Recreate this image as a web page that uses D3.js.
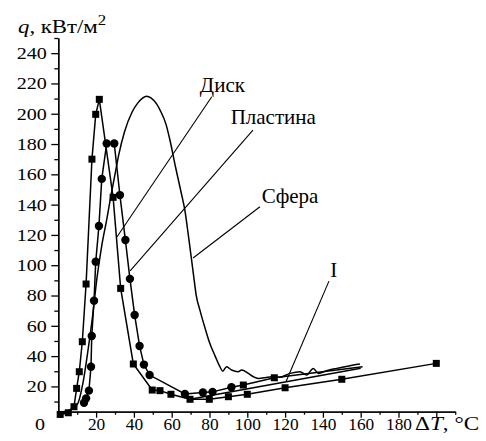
<!DOCTYPE html>
<html>
<head>
<meta charset="utf-8">
<script src="https://cdnjs.cloudflare.com/ajax/libs/d3/7.8.5/d3.min.js"></script>
<style>
  body { margin: 0; background: #fff; }
</style>
</head>
<body>
<svg id="chart" width="486" height="441"></svg>
<script>
// values (q in kW/m2 vs dT in degC)
const diskX = [1, 5.3, 8.3, 9.7, 11.1, 12.7, 14.7, 17.8, 19.8, 21.7, 29, 33, 39.7, 49.7, 53.8, 59.6, 69.7, 79.9, 90, 100, 120, 150, 200];
const diskY = [1.5, 2.6, 6.6, 18.7, 29.7, 49.5, 87.6, 170, 199.6, 209.5, 144.8, 84.7, 34.8, 17.6, 17.2, 14.8, 11.5, 11.5, 13.2, 14.8, 19.1, 24.7, 35.2];

const plateX = [13.6, 14.7, 16.2, 17.3, 17.7, 18.9, 19.8, 21.5, 23, 25.6, 29.6, 32.6, 35.5, 37.9, 40.4, 43, 45.3, 48.3, 67, 76.5, 81.6, 91.6];
const plateY = [9.2, 12.1, 17.2, 33, 53.3, 76.6, 102.3, 125.9, 157, 180.4, 180.4, 146.3, 116.6, 91, 67.1, 46.7, 34.4, 27.5, 15, 16, 16.4, 19.4];

// continuation of the upper tail (square markers on the inner points)
const upperX = [91.6, 97.9, 114.3, 161];
const upperY = [19.4, 20.9, 25.7, 33];

// line I
const lineIX = [69.7, 160];
const lineIY = [11.5, 32];

const sphereX = [1, 5, 10, 13, 15.5, 18, 20.5, 23, 25.6, 28, 30, 32, 35, 39, 42, 46.8, 49, 52, 54, 57, 59, 62, 65, 67, 69, 71.4, 73, 75, 78, 80, 83, 85.5, 87, 89, 91.7, 95.2, 97, 100.5, 103.2, 105.8, 109.4, 112.9, 117, 122.6, 127.9, 131.4, 134.9, 137.6, 142, 147.3, 151.7, 156.1, 159.6];
const sphereY = [3, 4, 8, 22, 42, 65, 92, 113, 130, 147, 160, 173, 188, 201, 207, 211.6, 210.5, 206.5, 202, 193, 183, 165, 148, 136, 118, 95, 80, 70, 57, 49, 40, 33, 30, 33, 30.8, 29.7, 30.8, 28.6, 26.4, 25.3, 25.7, 26.4, 26, 28.6, 29.7, 27.5, 31.9, 28.6, 30.4, 31.9, 33, 34.1, 34.8];

const xTicks = d3.range(0, 211, 10);
const xLabels = [20, 40, 60, 80, 100, 120, 140, 160, 180];
const yTicks = d3.range(10, 251, 10);
const yLabels = [20, 40, 60, 80, 100, 120, 140, 160, 180, 200, 220, 240];

// annotations: [label, text x, text y, leader from x, y, leader to x, y] in data units
const notes = [
  ["Диск", 74.9, 214.5, 81.2, 211.2, 31, 118.6],
  ["Пластина", 91.2, 193, 103, 189.2, 38, 96.3],
  ["Сфера", 107.6, 140.9, 106.7, 138.6, 71.3, 104.8],
  ["I", 143.9, 92.4, 143.2, 89.5, 120.5, 23.2]
];

const serif = '"Liberation Serif", "Times New Roman", serif';
const svg = d3.select("#chart");
const x = d3.scaleLinear().domain([0, 210]).range([58.3, 455.2]);
const y = d3.scaleLinear().domain([0, 250]).range([416.7, 38]);
const yBase = 3.3; // the horizontal axis sits a little above q = 0
const fs = 17;

// the printed figure's axis lettering is wide; stretch text about its anchor
function stretch(sel, sx) {
  sel.each(function () {
    const t = d3.select(this);
    const tx = +t.attr("x") || 0, ty = +t.attr("y") || 0;
    t.attr("x", 0).attr("y", 0).attr("transform", `translate(${tx},${ty}) scale(${sx},1)`);
  });
}

// x axis
const xg = svg.append("g").attr("transform", `translate(0,${y(yBase)})`);
xg.call(d3.axisBottom(x).tickValues(xTicks.filter(v => v % 20 == 10)).tickSize(3).tickFormat("").tickSizeOuter(0));
xg.append("g").call(d3.axisBottom(x).tickValues(xTicks.filter(v => v % 20 == 0 && v > 0))
  .tickSize(6).tickPadding(0).tickSizeOuter(0)
  .tickFormat(v => xLabels.includes(v) ? v : ""));
xg.selectAll("path, line").attr("stroke", "#000").attr("stroke-width", 1.3);
xg.selectAll("text").attr("y", 6.5);

// y axis
const yAx = y.copy().domain([yBase, 250]).range([y(yBase), y(250)]);
const yg = svg.append("g").attr("transform", `translate(${x(0)},0)`);
yg.call(d3.axisLeft(yAx).tickValues(yTicks.filter(v => v % 20 == 10)).tickSize(4).tickFormat("").tickSizeOuter(0));
yg.append("g").call(d3.axisLeft(yAx).tickValues(yLabels).tickSize(7).tickPadding(4.5).tickSizeOuter(0));
yg.selectAll("path, line").attr("stroke", "#000").attr("stroke-width", 1.3);

// axis titles
const zero = svg.append("text").attr("x", 40).attr("y", 430).attr("text-anchor", "middle").attr("font-size", fs).text("0");
const qt = svg.append("text").attr("x", 18).attr("y", 33).attr("font-size", 19);
qt.append("tspan").attr("font-style", "italic").text("q");
qt.append("tspan").text(", кВт/м");
qt.append("tspan").attr("font-size", 14).attr("dy", -8).text("2");
const tt = svg.append("text").attr("x", 415).attr("y", 430).attr("font-size", 19);
tt.append("tspan").text("Δ");
tt.append("tspan").attr("font-style", "italic").text("T");
tt.append("tspan").text(", °C");

// curves
const line = d3.line().x(d => x(d[0])).y(d => y(d[1]));
const pts = (xs, ys) => xs.map((v, i) => [v, ys[i]]);
const drawLine = (data, curve) => svg.append("path").datum(data)
  .attr("d", line.curve(curve)).attr("fill", "none").attr("stroke", "#000").attr("stroke-width", 1.5);

drawLine(pts(sphereX, sphereY), d3.curveMonotoneX);
drawLine(pts(diskX, diskY), d3.curveLinear);
drawLine(pts(plateX, plateY), d3.curveLinear);
drawLine(pts(upperX, upperY), d3.curveLinear);
drawLine(pts(lineIX, lineIY), d3.curveLinear);

// markers
const sq = 7;
svg.append("g").selectAll("rect")
  .data(pts(diskX, diskY).concat(pts(upperX, upperY).slice(1, 3)))
  .join("rect")
  .attr("x", d => x(d[0]) - sq / 2).attr("y", d => y(d[1]) - sq / 2)
  .attr("width", sq).attr("height", sq).attr("fill", "#000");
svg.append("g").selectAll("circle")
  .data(pts(plateX, plateY))
  .join("circle")
  .attr("cx", d => x(d[0])).attr("cy", d => y(d[1])).attr("r", 4.2).attr("fill", "#000");

// labels with leader lines
const ng = svg.append("g");
notes.forEach(n => {
  ng.append("line").attr("x1", x(n[3])).attr("y1", y(n[4])).attr("x2", x(n[5])).attr("y2", y(n[6]))
    .attr("stroke", "#000").attr("stroke-width", 1.1);
  ng.append("text").attr("x", x(n[1])).attr("y", y(n[2])).attr("font-size", 21).text(n[0]);
});

// serif text everywhere, as in the printed figure
svg.selectAll("g").attr("font-family", serif);
svg.selectAll("text").attr("font-family", serif).attr("fill", "#000");
xg.selectAll("text").attr("font-size", 16.5);
yg.selectAll("text").attr("font-size", fs);
stretch(xg.selectAll("text"), 1.05);
stretch(yg.selectAll("text"), 1.18);
stretch(zero, 1.18);
stretch(qt, 1.2);
stretch(tt, 1.22);
</script>
</body>
</html>
